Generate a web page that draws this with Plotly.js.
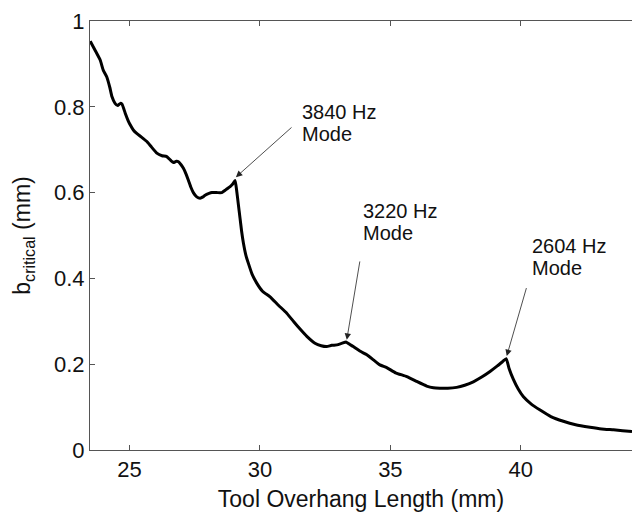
<!DOCTYPE html>
<html>
<head>
<meta charset="utf-8">
<script src="https://cdn.plot.ly/plotly-3.0.1.min.js"></script>
<style>html,body{margin:0;padding:0;background:#fff;}#chart{width:632px;height:513px;}</style>
</head>
<body>
<div id="chart"></div>
<script>
// Tool overhang length (mm)
var overhang = [23.50,23.70,23.88,24.00,24.13,24.25,24.33,24.45,24.55,24.65,24.72,24.84,24.95,25.03,25.15,25.28,25.45,25.67,25.85,26.05,26.25,26.43,26.60,26.69,26.80,26.88,26.98,27.07,27.16,27.26,27.36,27.45,27.58,27.71,27.82,27.90,28.05,28.16,28.35,28.54,28.70,28.86,28.96,29.05,29.11,29.17,29.24,29.30,29.37,29.46,29.56,29.70,29.88,30.10,30.39,30.70,31.03,31.30,31.54,31.80,32.11,32.35,32.56,32.75,32.95,33.15,33.30,33.45,33.58,33.85,34.10,34.35,34.58,34.86,35.20,35.63,36.00,36.39,36.65,36.90,37.20,37.54,37.85,38.18,38.50,38.82,39.10,39.30,39.44,39.55,39.71,39.90,40.10,40.40,40.74,41.15,41.63,42.10,42.65,43.10,43.55,43.90,44.26];
// b_critical (mm)
var bCritical = [0.953,0.930,0.909,0.885,0.870,0.845,0.824,0.808,0.803,0.808,0.806,0.785,0.768,0.758,0.746,0.738,0.730,0.719,0.706,0.692,0.686,0.684,0.674,0.670,0.673,0.672,0.665,0.657,0.645,0.629,0.612,0.600,0.590,0.587,0.590,0.594,0.598,0.600,0.600,0.600,0.607,0.614,0.620,0.628,0.605,0.575,0.540,0.510,0.482,0.455,0.435,0.410,0.389,0.370,0.357,0.338,0.319,0.299,0.282,0.265,0.249,0.243,0.241,0.244,0.245,0.249,0.252,0.246,0.241,0.230,0.222,0.210,0.199,0.192,0.180,0.171,0.160,0.149,0.145,0.144,0.144,0.146,0.151,0.159,0.170,0.183,0.196,0.206,0.213,0.190,0.165,0.142,0.124,0.107,0.093,0.078,0.067,0.059,0.053,0.049,0.047,0.045,0.043];

// Mode annotations
var modeLine1 = ["3840 Hz", "3220 Hz", "2604 Hz"];
var modeLine2 = ["Mode", "Mode", "Mode"];
var textX = [31.54, 33.88, 40.35];
var textY1 = [0.787, 0.557, 0.476];
var textY2 = [0.736, 0.506, 0.425];
var arrowHeadX = [29.08, 33.33, 39.46];
var arrowHeadY = [0.636, 0.257, 0.219];
var arrowTailX = [31.27, 33.84, 40.23];
var arrowTailY = [0.755, 0.443, 0.381];

var FONT = "Liberation Sans, Arial, Helvetica, sans-serif";
var annotations = [];
for (var i = 0; i < modeLine1.length; i++) {
  annotations.push({x: arrowHeadX[i], y: arrowHeadY[i], xref: 'x', yref: 'y',
    ax: arrowTailX[i], ay: arrowTailY[i], axref: 'x', ayref: 'y',
    text: '', showarrow: true, arrowhead: 2, arrowsize: 1.6, arrowwidth: 0.8,
    arrowcolor: '#222', standoff: 0, startstandoff: 0});
  annotations.push({x: textX[i], y: textY1[i], xref: 'x', yref: 'y', text: modeLine1[i],
    showarrow: false, xanchor: 'left', yanchor: 'middle', font: {family: FONT, size: 20, color: '#111'}});
  annotations.push({x: textX[i], y: textY2[i], xref: 'x', yref: 'y', text: modeLine2[i],
    showarrow: false, xanchor: 'left', yanchor: 'middle', font: {family: FONT, size: 20, color: '#111'}});
}

var trace = {x: overhang, y: bCritical, type: 'scatter', mode: 'lines',
  line: {color: '#000', width: 3, shape: 'spline', smoothing: 0.4}, hoverinfo: 'skip'};

var layout = {
  width: 632, height: 513,
  margin: {l: 90, r: 0, t: 21, b: 63},
  paper_bgcolor: '#fff', plot_bgcolor: '#fff',
  showlegend: false,
  font: {family: FONT, color: '#111'},
  xaxis: {range: [23.49, 44.26], tickvals: [25, 30, 35, 40], ticks: 'inside', ticklen: 5,
    tickcolor: '#555', showline: true, linecolor: '#555', linewidth: 1, mirror: 'ticks',
    showgrid: false, zeroline: false, tickfont: {family: FONT, size: 22, color: '#111'},
    title: {text: 'Tool Overhang Length (mm)', font: {family: FONT, size: 23, color: '#111'}, standoff: 9}},
  yaxis: {range: [0, 1], tickvals: [0, 0.2, 0.4, 0.6, 0.8, 1], ticktext: ['0', '0.2', '0.4', '0.6', '0.8', '1'],
    ticks: 'inside', ticklen: 5, tickcolor: '#555', showline: true, linecolor: '#555', linewidth: 1,
    mirror: false, showgrid: false, zeroline: false, tickfont: {family: FONT, size: 22, color: '#111'},
    title: {text: 'b<sub>critical</sub> (mm)', font: {family: FONT, size: 23, color: '#111'}, standoff: 16}},
  annotations: annotations
};

Plotly.newPlot('chart', [trace], layout, {staticPlot: true, displayModeBar: false});
</script>
</body>
</html>
